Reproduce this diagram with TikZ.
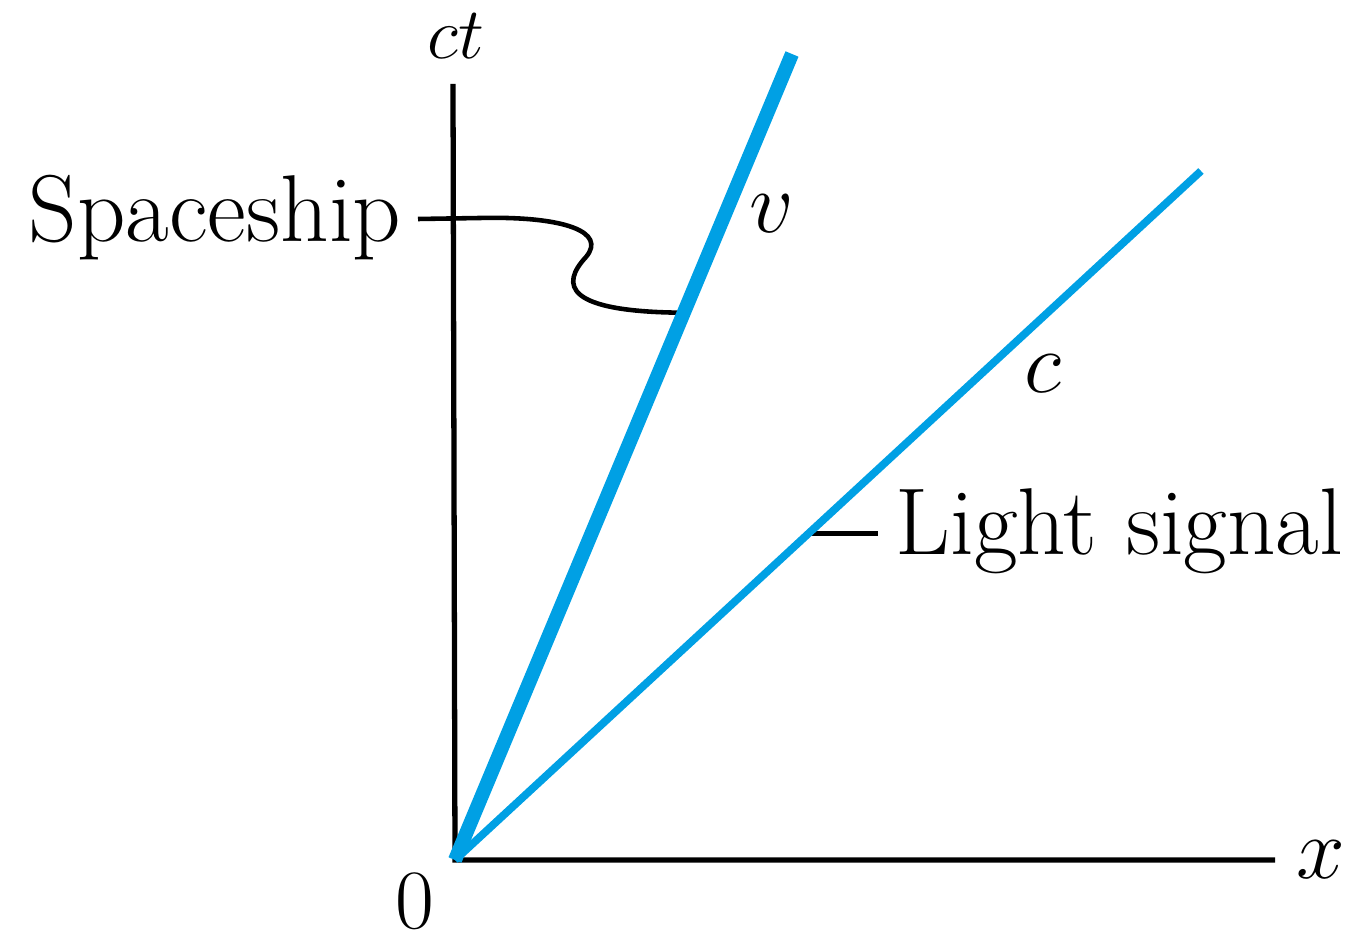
\documentclass[tikz,border=0pt]{standalone}
\usepackage{amsmath, amssymb}
\usepackage{tikz}
\usetikzlibrary{calc, positioning}
\usepackage{xcolor}
\definecolor{worldblue}{RGB}{0,160,228}
\tikzset{
  axis/.style    ={line width=1.5pt, black},
  shipline/.style={line width=4pt, worldblue},
  lightline/.style={line width=2.2pt, worldblue},
  leader/.style  ={line width=1.3pt, black},
  lbl/.style     ={font=\fontsize{27}{32}\selectfont, inner sep=0pt},
  mlbl/.style    ={font=\fontsize{24}{29}\selectfont, inner sep=0pt},
}

\begin{document}
\begin{tikzpicture}[x=0.01cm, y=-0.01cm]
  \useasboundingbox (0,0) rectangle (1353,940);
  % axes and world lines (pixel coordinates)
  \coordinate (O)        at (455,860);
  \coordinate (ctend)    at (453,84);
  \coordinate (xend)     at (1275,860);
  \coordinate (shipend)  at (792,54);
  \coordinate (lightend) at (1201,171);
  \coordinate (shippt)   at ($(O)!0.679!(shipend)$);
  \coordinate (lightpt)  at ($(O)!0.474!(lightend)$);

  \node[mlbl, font=\fontsize{21}{25}\selectfont] (ct) at (456,36) {$ct$};
  \node[mlbl] (xl)   at (1321,860) {$x$};
  \node[lbl, font=\fontsize{24}{29}\selectfont] (zero) at (415,901) {0};
  \node[mlbl] (v)    at (772,214) {$v$};
  \node[mlbl] (c)    at (1043,374) {$c$};
  \node[lbl, anchor=base east] (ship) at (402,242) {Spaceship};
  \node[lbl, anchor=base west] (light) at (895,555) {Light signal};

  \draw[leader] (ship.east |- 0,219) ++(16,0) -- ++(62,-1)
    .. controls (565,216) and (607,232) .. (586,257)
    .. controls (560,285) and (565,312) .. (shippt);
  \draw[leader] (lightpt) -- ($(lightpt -| light.west)+(-17,0)$);

  \draw[axis] (ctend) -- (O |- xend) -- (xend);
  \draw[lightline] (O) -- (lightend);
  \draw[shipline] (O) -- (shipend);
\end{tikzpicture}
\end{document}
